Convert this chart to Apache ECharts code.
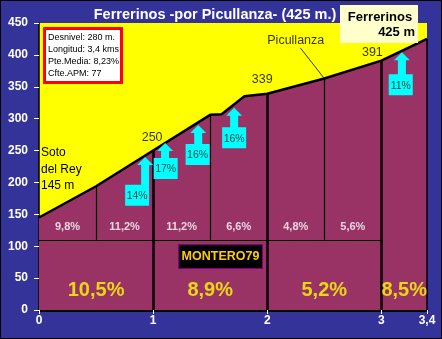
<!DOCTYPE html>
<html><head><meta charset="utf-8">
<script src="https://cdn.jsdelivr.net/npm/echarts@6/dist/echarts.min.js"></script>
<style>html,body{margin:0;padding:0;background:#333399}#c{width:442px;height:339px}</style>
</head><body><div id="c"></div>
<script>
// ---- data ----
const distKm = [0, 0.5, 1.0, 1.5, 1.6, 1.8, 2.0, 2.5, 3.0, 3.4];
const elevM  = [145, 194, 250, 306, 307, 335, 339, 363, 391, 425];
const xTicks = [0, 1, 2, 3, 3.4];
const yMin = 0, yMax = 450, yStep = 50;
const bandTopM = 110;
const minorSplitKm = [0.5, 1.5, 2.5];
const majorSplitKm = [1, 2, 3];
const upperSegKm  = [0.25, 0.75, 1.25, 1.75, 2.25, 2.75];
const upperSegPct = ['9,8%', '11,2%', '11,2%', '6,6%', '4,8%', '5,6%'];
const lowerSegKm  = [0.5, 1.5, 2.5, 3.2];
const lowerSegPct = ['10,5%', '8,9%', '5,2%', '8,5%'];
const peakKm = [1, 2, 3];
const arrowKm    = [0.93, 1.105, 1.395, 1.71, 3.18];
const arrowM     = [240, 262, 290, 317, 404];
const arrowBoxKm = [0.86, 1.11, 1.39, 1.71, 3.17];
const arrowBoxM  = [180, 222, 244, 270, 353];
const arrowPct   = ['14%', '17%', '16%', '16%', '11%'];
const passKm = 2.5, passName = 'Picullanza', passLabelKm = 2.25, passLabelM = 423, passLeaderKm = 2.29, passLeaderM = 411;
const infoLines = ['Desnivel: 280 m.', 'Longitud: 3,4 kms', 'Pte.Media: 8,23%', 'Cfte.APM: 77'];
const titleText = 'Ferrerinos -por Picullanza- (425 m.)';
const summitName = 'Ferrerinos', summitAlt = '425 m';
const startLines = ['Soto', 'del Rey', '145 m'];

// ---- helpers ----
function elevAt(km){
  for (let i=0;i<distKm.length-1;i++){
    if (km>=distKm[i] && km<=distKm[i+1]){
      const t=(km-distKm[i])/(distKm[i+1]-distKm[i]);
      return elevM[i]+t*(elevM[i+1]-elevM[i]);
    }
  }
  return elevM[elevM.length-1];
}
const FONT = 'Liberation Sans, Arial, sans-serif';
const profile = distKm.map((d,i)=>[d, elevM[i]]);

const mlData = [];
minorSplitKm.forEach(k=>mlData.push([{coord:[k,bandTopM],lineStyle:{width:1.2}},{coord:[k,elevAt(k)]}]));
majorSplitKm.forEach(k=>mlData.push([{coord:[k,0],lineStyle:{width:2.5}},{coord:[k,elevAt(k)]}]));
mlData.push([{coord:[0,bandTopM],lineStyle:{width:1.2}},{coord:[3,bandTopM]}]);
mlData.push([{coord:[3.4,0],lineStyle:{width:1.5}},{coord:[3.4,elevAt(3.4)]}]);
mlData.push([{coord:[passKm,elevAt(passKm)],lineStyle:{width:0.8}},{coord:[passLeaderKm,passLeaderM]}]);

const peakOffsets = [[-1,-13],[-5,-14],[-9,-8]];

const arrowData = arrowKm.map((k,i)=>[k, arrowM[i], arrowBoxKm[i], arrowBoxM[i]]);

function renderArrow(params, api){
  const apex = api.coord([api.value(0), api.value(1)]);
  const box = api.coord([api.value(2), api.value(3)]);
  const headH=8, headW=16, shaftW=8, bw=24, bh=21;
  const top = box[1]-bh/2, bot = box[1]+bh/2;
  const ax = apex[0], ay = apex[1];
  const pts = [[ax,ay],[ax+headW/2,ay+headH],[ax+shaftW/2,ay+headH],[ax+shaftW/2,top],
    [box[0]+bw/2,top],[box[0]+bw/2,bot],[box[0]-bw/2,bot],[box[0]-bw/2,top],
    [ax-shaftW/2,top],[ax-shaftW/2,ay+headH],[ax-headW/2,ay+headH]];
  return {type:'group', children:[
    {type:'polygon', shape:{points:pts}, style:{fill:'#00ffff'}},
    {type:'text', style:{text:arrowPct[params.dataIndex], x:box[0], y:box[1]+1, align:'center', verticalAlign:'middle',
      fill:'#0a4a4a', font:'10.5px '+FONT}}
  ]};
}

const chart = echarts.init(document.getElementById('c'), null, {renderer:'canvas'});
chart.setOption({
  animation:false,
  backgroundColor:'#333399',
  grid:{left:39, right:15, top:23, bottom:29, show:true, backgroundColor:'#ffff00', borderWidth:0},
  xAxis:{type:'value', min:0, max:3.4,
    axisLine:{show:true, lineStyle:{color:'#000', width:3}},
    axisTick:{show:true, length:4, lineStyle:{color:'#ffffff'}, customValues:xTicks},
    axisLabel:{color:'#ffffff', fontWeight:'bold', fontSize:12, fontFamily:FONT, margin:5,
      customValues:xTicks, formatter:v=>String(v).replace('.',',')},
    splitLine:{show:false}},
  yAxis:{type:'value', min:yMin, max:yMax, interval:yStep,
    axisLine:{show:true, lineStyle:{color:'#000', width:1.5}},
    axisTick:{show:true, length:5, lineStyle:{color:'#ffffff'}},
    axisLabel:{color:'#ffffff', fontWeight:'bold', fontSize:12, fontFamily:FONT, margin:11},
    splitLine:{show:false}},
  series:[
    {type:'line', data:profile, symbol:'none', z:2,
      lineStyle:{color:'#000', width:2.5},
      areaStyle:{color:'#993366', opacity:1},
      markLine:{silent:true, symbol:['none','none'], label:{show:false},
        lineStyle:{color:'#000', type:'solid'}, data:mlData}},
    {type:'custom', renderItem:renderArrow, data:arrowData, encode:{x:0,y:1}, z:5, clip:false},
    {type:'scatter', symbolSize:0, z:6,
      data:peakKm.map((k,i)=>({value:[k,elevAt(k)], label:{offset:peakOffsets[i]}})),
      label:{show:true, position:'inside', color:'#000', fontSize:12.5, fontFamily:FONT,
        formatter:p=>String(Math.round(p.value[1]))}},
    {type:'scatter', symbolSize:0, z:6,
      data:[[passLabelKm, passLabelM]],
      label:{show:true, position:'inside', color:'#000', fontSize:12.5, fontFamily:FONT, formatter:()=>passName}},
    {type:'scatter', symbolSize:0, z:6,
      data:upperSegKm.map(k=>[k,130]),
      label:{show:true, position:'inside', color:'#ffffff', fontSize:11, fontWeight:'bold', fontFamily:FONT,
        formatter:p=>upperSegPct[p.dataIndex]}},
    {type:'scatter', symbolSize:0, z:6,
      data:lowerSegKm.map(k=>[k,30]),
      label:{show:true, position:'inside', color:'#ffff00', fontSize:20, fontWeight:'bold', fontFamily:FONT,
        formatter:p=>lowerSegPct[p.dataIndex]}}
  ],
  graphic:[
    {type:'rect', shape:{x:0.5,y:0.5,width:441,height:338}, style:{fill:'none', stroke:'#000', lineWidth:1}, z:100},
    {type:'text', x:215, y:15, style:{text:titleText, align:'center', verticalAlign:'middle', fill:'#fff', font:'bold 14.5px '+FONT}, z:100},
    {type:'rect', shape:{x:44.5,y:28.5,width:77,height:54}, style:{fill:'#fff', stroke:'#ff0000', lineWidth:3}, z:100},
    ...infoLines.map((t,i)=>({type:'text', x:48, y:37.5+i*12, style:{text:t, align:'left', verticalAlign:'middle', fill:'#000', font:'9px '+FONT}, z:101})),
    {type:'rect', shape:{x:340,y:5,width:78,height:38}, style:{fill:'#ffffcc'}, z:100},
    {type:'text', x:380, y:17, style:{text:summitName, align:'center', verticalAlign:'middle', fill:'#000', font:'bold 13px '+FONT}, z:101},
    {type:'text', x:415, y:32, style:{text:summitAlt, align:'right', verticalAlign:'middle', fill:'#000', font:'bold 13px '+FONT}, z:101},
    {type:'rect', shape:{x:178.5,y:244.5,width:84,height:24}, style:{fill:'#000', stroke:'#800080', lineWidth:1}, z:100},
    {type:'text', x:220.5, y:257, style:{text:'MONTERO79', align:'center', verticalAlign:'middle', fill:'#ffcc00', font:'bold 12.5px '+FONT}, z:101},
    ...startLines.map((t,i)=>({type:'text', x:41, y:153+i*16.5, style:{text:t, align:'left', verticalAlign:'middle', fill:'#000', font:'12px '+FONT}, z:100}))
  ]
});
</script></body></html>
